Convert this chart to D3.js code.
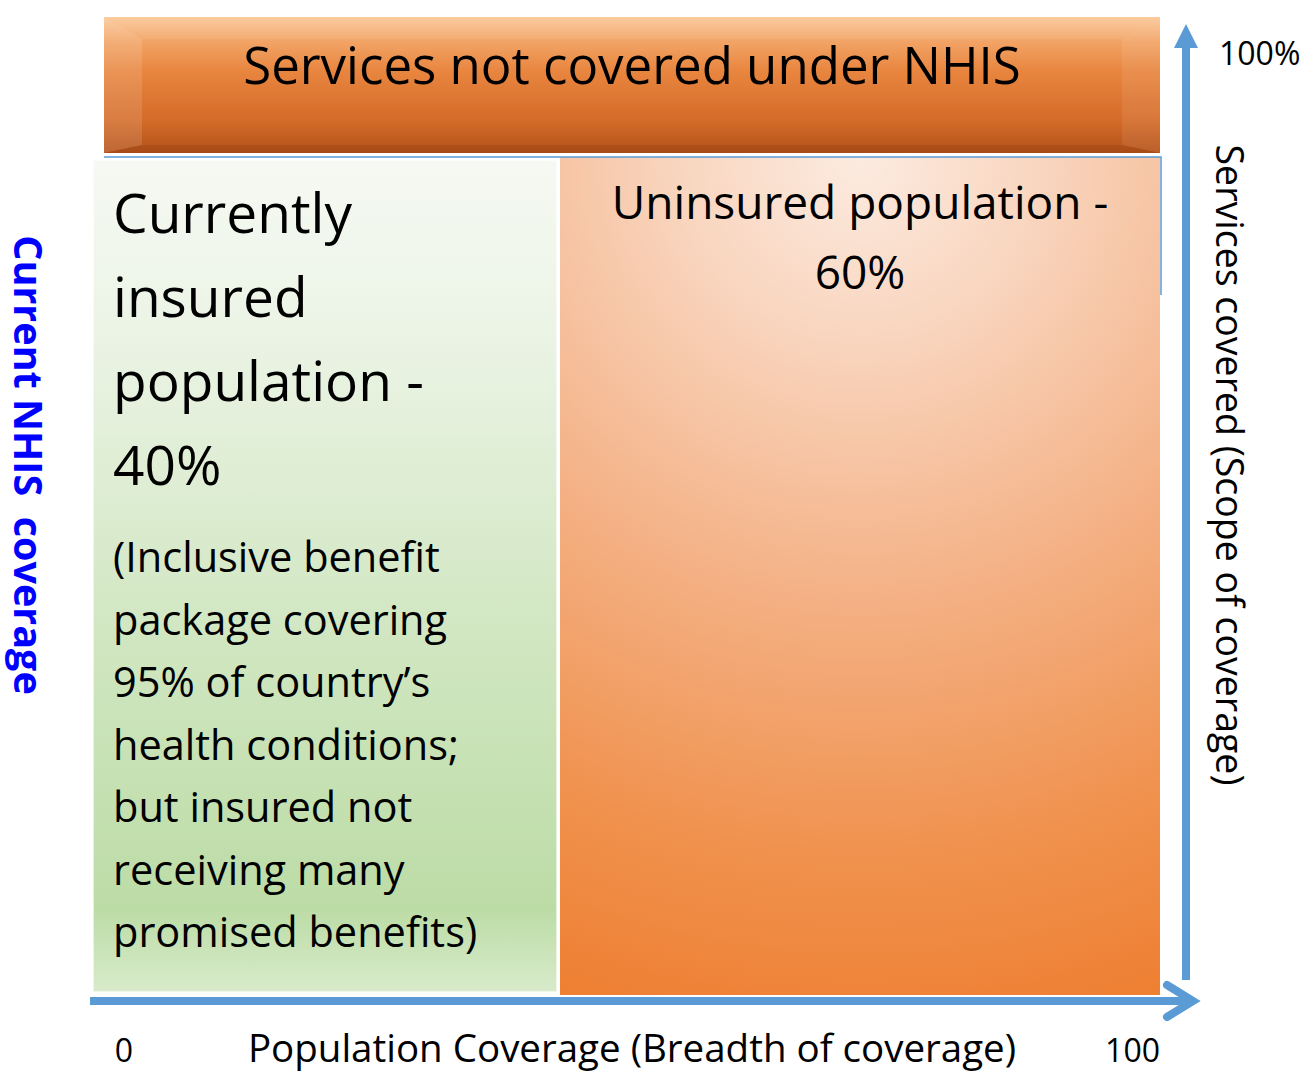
<!DOCTYPE html>
<html>
<head>
<meta charset="utf-8">
<script src="https://cdn.jsdelivr.net/npm/d3@7"></script>
<style>
  body { margin: 0; background: #fff; }
  text { font-family: "Open Sans", "Noto Sans", sans-serif; }
</style>
</head>
<body>
<script>
var width = 1304,
    height = 1074;

// segments of the population axis (percent)
var segments = ["insured", "uninsured"];
var shares = [40, 60];
var segmentLabels = [
  ["Currently", "insured", "population -", "40%"],
  ["Uninsured population -", "60%"]
];
var noteLines = ["(Inclusive benefit", "package covering", "95% of country\u2019s",
  "health conditions;", "but insured not", "receiving many", "promised benefits)"];
var titleText = "Services not covered under NHIS";
var xTicks = ["0", "100"];
var yTick = "100%";
var xTitle = "Population Coverage (Breadth of coverage)";
var yTitle = "Services covered (Scope of coverage)";
var leftTitle = "Current NHIS  coverage";

var svg = d3.select("body").append("svg")
  .attr("width", width)
  .attr("height", height);

var defs = svg.append("defs");

// gradients
var gTop = defs.append("linearGradient").attr("id", "topbar")
  .attr("x1", 0).attr("y1", 0).attr("x2", 0).attr("y2", 1);
[[0, "#fbc99a"], [0.18, "#f2a466"], [0.4, "#e8853f"], [0.75, "#d56c29"], [1, "#b4521a"]]
  .forEach(function (s) { gTop.append("stop").attr("offset", s[0]).attr("stop-color", s[1]); });

var gGreen = defs.append("linearGradient").attr("id", "green")
  .attr("x1", 0).attr("y1", 0).attr("x2", 0).attr("y2", 1);
[[0, "#f6f9f3"], [0.2, "#ecf4e6"], [0.55, "#d2e7c3"], [0.9, "#bcdca6"], [1, "#d8ebcb"]]
  .forEach(function (s) { gGreen.append("stop").attr("offset", s[0]).attr("stop-color", s[1]); });

var gOrange = defs.append("radialGradient").attr("id", "orange")
  .attr("cx", 0.5).attr("cy", 0).attr("r", 1.05).attr("fx", 0.5).attr("fy", 0)
  .attr("gradientTransform", "translate(0.5,0) scale(1.4,1) translate(-0.5,0)");
[[0, "#fcebe0"], [0.2, "#f9d6c0"], [0.5, "#f4b185"], [0.8, "#f0914d"], [1, "#ee8033"]]
  .forEach(function (s) { gOrange.append("stop").attr("offset", s[0]).attr("stop-color", s[1]); });

// scales
var x = d3.scaleLinear().domain([0, 40, 100]).range([93, 558, 1160]);
var y = d3.scaleLinear().domain([0, 100]).range([995, 17]);
var yBoxTop = 157;

var stack = [];
var acc = 0;
shares.forEach(function (v, i) {
  stack.push({ key: segments[i], x0: acc, x1: acc + v, i: i });
  acc += v;
});

// top bar: services not covered
var bar = { x0: 104, x1: 1160, y0: y(100), y1: 153 };
svg.append("rect")
  .attr("x", bar.x0).attr("y", bar.y0)
  .attr("width", bar.x1 - bar.x0).attr("height", bar.y1 - bar.y0)
  .attr("fill", "url(#topbar)");
// bevel facets
var bv = 38, bt = 22, bb = 8;
svg.append("polygon")
  .attr("points", [[bar.x0, bar.y0], [bar.x0 + bv, bar.y0 + bt], [bar.x0 + bv, bar.y1 - bb], [bar.x0, bar.y1]].join(" "))
  .attr("fill", "#ffffff").attr("opacity", 0.12);
svg.append("polygon")
  .attr("points", [[bar.x1, bar.y0], [bar.x1 - bv, bar.y0 + bt], [bar.x1 - bv, bar.y1 - bb], [bar.x1, bar.y1]].join(" "))
  .attr("fill", "#ffffff").attr("opacity", 0.08);
svg.append("polygon")
  .attr("points", [[bar.x0, bar.y0], [bar.x1, bar.y0], [bar.x1 - bv, bar.y0 + bt], [bar.x0 + bv, bar.y0 + bt]].join(" "))
  .attr("fill", "#ffffff").attr("opacity", 0.06);
svg.append("polygon")
  .attr("points", [[bar.x0, bar.y1], [bar.x1, bar.y1], [bar.x1 - bv, bar.y1 - bb], [bar.x0 + bv, bar.y1 - bb]].join(" "))
  .attr("fill", "#7a3008").attr("opacity", 0.2);
svg.append("text")
  .attr("x", 632).attr("y", 84)
  .attr("text-anchor", "middle")
  .attr("font-size", 51)
  .attr("fill", "#000")
  .text(titleText);

// population boxes
svg.selectAll("rect.seg")
  .data(stack)
  .join("rect")
  .attr("class", "seg")
  .attr("x", function (d) { return d.i === 0 ? x(d.x0) : x(d.x0) + 2; })
  .attr("y", function (d) { return d.i === 0 ? yBoxTop + 3 : yBoxTop; })
  .attr("width", function (d) { return x(d.x1) - x(d.x0) - (d.i === 0 ? 1 : 2); })
  .attr("height", function (d) { return d.i === 0 ? 992 - yBoxTop - 3 : y(0) - yBoxTop; })
  .attr("fill", function (d) { return d.i === 0 ? "url(#green)" : "url(#orange)"; })
  .attr("stroke", function (d) { return d.i === 0 ? "#ffffff" : "none"; })
  .attr("stroke-opacity", 0.6)
  .attr("stroke-width", 2);

// thin blue edge below the top bar
svg.append("path")
  .attr("d", "M" + bar.x0 + "," + (bar.y1 + 4) + "H" + (bar.x1 + 1) + "V295")
  .attr("fill", "none")
  .attr("stroke", "#5b9bd5")
  .attr("stroke-width", 1.5);

// segment labels
var ins = svg.append("text")
  .attr("font-size", 55)
  .attr("fill", "#000");
ins.selectAll("tspan")
  .data(segmentLabels[0])
  .join("tspan")
  .attr("x", x(0) + 20)
  .attr("y", function (d, i) { return 233 + i * 84; })
  .text(function (d) { return d; });

var note = svg.append("text")
  .attr("font-size", 41.5)
  .attr("fill", "#000");
note.selectAll("tspan")
  .data(noteLines)
  .join("tspan")
  .attr("x", x(0) + 20)
  .attr("y", function (d, i) { return 572 + i * 62.5; })
  .text(function (d) { return d; });

var unins = svg.append("text")
  .attr("font-size", 46)
  .attr("text-anchor", "middle")
  .attr("fill", "#000");
unins.selectAll("tspan")
  .data(segmentLabels[1])
  .join("tspan")
  .attr("x", (x(40) + x(100)) / 2 + 1)
  .attr("y", function (d, i) { return 219 + i * 70; })
  .text(function (d) { return d; });

// axes arrows
var blue = "#5b9bd5";
var axY = 1001, axX = 1186;
svg.append("line")
  .attr("x1", 90).attr("y1", axY).attr("x2", 1192).attr("y2", axY)
  .attr("stroke", blue).attr("stroke-width", 8);
svg.append("polyline")
  .attr("points", [[1167, axY - 16], [1193, axY], [1167, axY + 16]].join(" "))
  .attr("fill", "none").attr("stroke", blue).attr("stroke-width", 8)
  .attr("stroke-linecap", "round").attr("stroke-linejoin", "miter");

svg.append("line")
  .attr("x1", axX).attr("y1", 980).attr("x2", axX).attr("y2", 46)
  .attr("stroke", blue).attr("stroke-width", 8);
svg.append("polygon")
  .attr("points", [[axX - 12, 48], [axX, 24], [axX + 12, 48]].join(" "))
  .attr("fill", blue);

// tick labels and axis titles
svg.append("text")
  .attr("x", 1219).attr("y", 65)
  .attr("font-size", 32)
  .text(yTick);

svg.selectAll("text.xtick")
  .data(xTicks)
  .join("text")
  .attr("class", "xtick")
  .attr("x", function (d, i) { return i === 0 ? x(0) + 31 : x(100); })
  .attr("y", 1062)
  .attr("text-anchor", function (d, i) { return i === 0 ? "middle" : "end"; })
  .attr("font-size", 32)
  .text(function (d) { return d; });

svg.append("text")
  .attr("x", 632).attr("y", 1062)
  .attr("text-anchor", "middle")
  .attr("font-size", 38.5)
  .text(xTitle);

svg.append("text")
  .attr("transform", "translate(1216,465) rotate(90)")
  .attr("text-anchor", "middle")
  .attr("font-size", 37.5)
  .text(yTitle);

svg.append("text")
  .attr("transform", "translate(14,465) rotate(90)")
  .attr("text-anchor", "middle")
  .attr("font-family", "Liberation Sans, Arial, sans-serif")
  .attr("font-weight", "bold")
  .attr("font-size", 39.5)
  .attr("fill", "#0000ff")
  .attr("xml:space", "preserve")
  .style("white-space", "pre")
  .text(leftTitle);
</script>
</body>
</html>
